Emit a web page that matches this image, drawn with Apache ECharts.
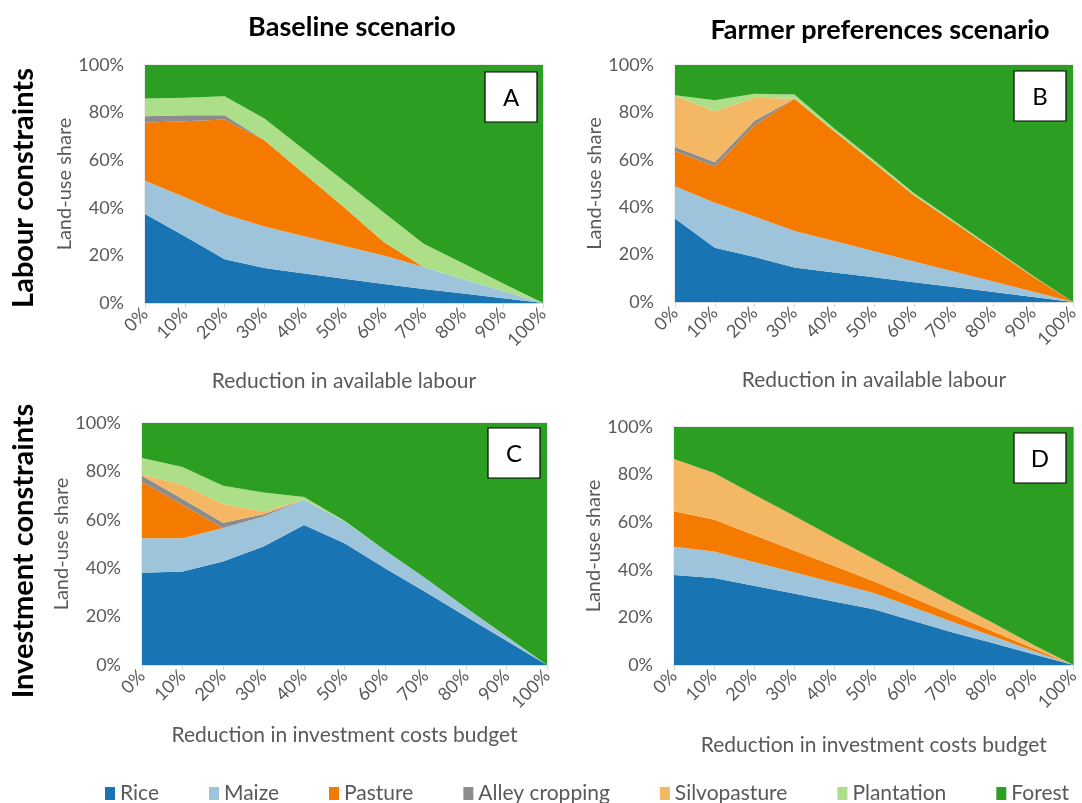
<!DOCTYPE html>
<html>
<head>
<meta charset="utf-8">
<script src="https://cdn.jsdelivr.net/npm/echarts@6/dist/echarts.min.js"></script>
<style>
  html, body { margin: 0; padding: 0; background: #fff; }
  #chart { width: 1082px; height: 803px; }
</style>
</head>
<body>
<div id="chart"></div>
<script>
// x categories (share of reduction)
const categories = ['0%', '10%', '20%', '30%', '40%', '50%', '60%', '70%', '80%', '90%', '100%'];
const landUses = ['Rice', 'Maize', 'Pasture', 'Alley cropping', 'Silvopasture', 'Plantation', 'Forest'];
const yTicks = [0, 20, 40, 60, 80, 100];

// A - labour constraints, baseline
const aRice       = [37.4, 28.0, 18.4, 14.7, 12.4, 10.2, 8.0, 5.9, 4.0, 2.0, 0];
const aMaize      = [14.0, 16.4, 18.9, 17.4, 15.6, 13.8, 12.0, 9.2, 6.0, 3.0, 0];
const aPasture    = [24.4, 32.0, 39.8, 36.3, 26.3, 16.2, 5.6, 0, 0, 0, 0];
const aAlley      = [2.7, 2.5, 1.8, 0, 0, 0, 0, 0, 0, 0, 0];
const aSilvo      = [0, 0, 0, 0, 0, 0, 0, 0, 0, 0, 0];
const aPlantation = [7.4, 7.3, 8.0, 9.1, 10.1, 11.1, 12.4, 9.8, 6.6, 3.2, 0];
const aForest     = [14.1, 13.8, 13.1, 22.5, 35.6, 48.7, 62.0, 75.1, 83.4, 91.8, 100];

// B - labour constraints, farmer preferences
const bRice       = [35.2, 22.9, 19.0, 14.6, 12.5, 10.4, 8.3, 6.3, 4.2, 2.1, 0];
const bMaize      = [13.6, 19.0, 17.1, 15.4, 13.2, 11.0, 8.8, 6.6, 4.4, 2.2, 0];
const bPasture    = [14.9, 15.3, 38.4, 55.8, 46.3, 37.3, 27.9, 20.7, 13.6, 6.4, 0];
const bAlley      = [1.7, 1.8, 2.0, 0, 0, 0, 0, 0, 0, 0, 0];
const bSilvo      = [21.5, 21.5, 9.7, 0, 0, 0, 0, 0, 0, 0, 0];
const bPlantation = [0.3, 4.6, 1.7, 1.8, 1.2, 1.1, 1.0, 0.8, 0.5, 0.3, 0];
const bForest     = [12.8, 14.9, 12.1, 12.4, 26.8, 40.2, 54.0, 65.6, 77.3, 89.0, 100];

// C - investment constraints, baseline
const cRice       = [38.1, 38.6, 42.8, 49.0, 57.8, 50.3, 40.0, 30.2, 20.0, 10.0, 0];
const cMaize      = [14.3, 13.8, 13.8, 12.4, 10.5, 9.0, 7.4, 5.6, 3.7, 1.9, 0];
const cPasture    = [23.2, 13.8, 0, 0, 0, 0, 0, 0, 0, 0, 0];
const cAlley      = [2.6, 2.4, 2.2, 0.9, 0, 0, 0, 0, 0, 0, 0];
const cSilvo      = [0.5, 5.9, 7.7, 1.1, 0, 0, 0, 0, 0, 0, 0];
const cPlantation = [6.8, 7.3, 7.6, 7.9, 1.1, 0.3, 0, 0, 0, 0, 0];
const cForest     = [14.5, 18.2, 25.9, 28.7, 30.6, 40.4, 52.6, 64.2, 76.3, 88.1, 100];

// D - investment constraints, farmer preferences
const dRice       = [37.8, 36.6, 33.3, 30.0, 26.7, 23.4, 18.5, 13.6, 9.1, 4.5, 0];
const dMaize      = [11.9, 11.1, 10.0, 9.0, 8.0, 6.9, 5.7, 4.4, 2.9, 1.4, 0];
const dPasture    = [14.9, 13.4, 11.3, 9.1, 7.0, 4.9, 3.8, 3.0, 2.0, 1.0, 0];
const dAlley      = [0, 0, 0, 0, 0, 0, 0, 0, 0, 0, 0];
const dSilvo      = [22.0, 19.6, 17.0, 14.6, 11.9, 9.3, 7.4, 5.4, 3.5, 1.5, 0];
const dPlantation = [0, 0, 0, 0, 0, 0, 0, 0, 0, 0, 0];
const dForest     = [13.4, 19.3, 28.4, 37.3, 46.4, 55.5, 64.6, 73.6, 82.5, 91.6, 100];

const colors = ['#1874b2', '#9dc4da', '#f57a00', '#8c8c8c', '#f4b865', '#acdf87', '#2c9f23'];
const font = 'Lato, "Open Sans", sans-serif';
const grey = '#595959';

const panels = [
  { key: 'A', grid: { left: 145, top: 65, width: 398, height: 238 }, xName: 'Reduction in available labour', nameGap: 68,
    data: [aRice, aMaize, aPasture, aAlley, aSilvo, aPlantation, aForest], box: [485, 72] },
  { key: 'B', grid: { left: 675, top: 65, width: 398, height: 237 }, xName: 'Reduction in available labour', nameGap: 68,
    data: [bRice, bMaize, bPasture, bAlley, bSilvo, bPlantation, bForest], box: [1014, 71] },
  { key: 'C', grid: { left: 142, top: 423, width: 405, height: 242 }, xName: 'Reduction in investment costs budget', nameGap: 60,
    data: [cRice, cMaize, cPasture, cAlley, cSilvo, cPlantation, cForest], box: [488, 428] },
  { key: 'D', grid: { left: 674, top: 427, width: 400, height: 238 }, xName: 'Reduction in investment costs budget', nameGap: 70,
    data: [dRice, dMaize, dPasture, dAlley, dSilvo, dPlantation, dForest], box: [1014, 433] }
];

const grids = [], xAxes = [], yAxes = [], series = [], graphic = [];

panels.forEach((p, i) => {
  grids.push(Object.assign({ show: true, borderColor: '#d9d9d9', borderWidth: 1, backgroundColor: 'transparent' }, p.grid));
  xAxes.push({
    type: 'category', gridIndex: i, data: categories, boundaryGap: false,
    axisLine: { lineStyle: { color: '#d9d9d9' } },
    axisTick: { show: true, length: 5, lineStyle: { color: '#d9d9d9' } },
    axisLabel: { rotate: 45, color: grey, fontSize: 18, fontFamily: font, margin: 8, interval: 0 },
    name: p.xName, nameLocation: 'middle', nameGap: p.nameGap,
    nameTextStyle: { color: grey, fontSize: 21, fontFamily: font }
  });
  yAxes.push({
    type: 'value', gridIndex: i, min: 0, max: 100, interval: 20,
    axisLine: { show: false }, axisTick: { show: false }, splitLine: { show: false },
    axisLabel: { formatter: '{value}%', color: grey, fontSize: 18, fontFamily: font, margin: 21 },
    name: 'Land-use share', nameLocation: 'middle', nameGap: 70,
    nameTextStyle: { color: grey, fontSize: 20, fontFamily: font }
  });
  landUses.forEach((name, k) => {
    series.push({
      name, type: 'line', xAxisIndex: i, yAxisIndex: i, stack: p.key,
      data: p.data[k], symbol: 'none', smooth: false,
      lineStyle: { width: 0 }, areaStyle: { color: colors[k], opacity: 1 },
      itemStyle: { color: colors[k] }, emphasis: { disabled: true }
    });
  });
  // panel letter box
  graphic.push({
    type: 'rect', shape: { x: p.box[0], y: p.box[1], width: 52, height: 50 },
    style: { fill: '#fff', stroke: '#000', lineWidth: 1.2 }, z: 100
  });
  graphic.push({
    type: 'text', x: p.box[0] + 26, y: p.box[1] + 26, z: 101,
    style: { text: p.key, fill: '#000', font: '24px ' + font, textAlign: 'center', textVerticalAlign: 'middle' }
  });
});

// column and row headings
graphic.push(
  { type: 'text', x: 352, y: 27, style: { text: 'Baseline scenario', fill: '#000', font: 'bold 27px ' + font, textAlign: 'center', textVerticalAlign: 'middle' } },
  { type: 'text', x: 880, y: 30, style: { text: 'Farmer preferences scenario', fill: '#000', font: 'bold 27px ' + font, textAlign: 'center', textVerticalAlign: 'middle' } },
  { type: 'text', x: 24, y: 188, rotation: Math.PI / 2, style: { text: 'Labour constraints', fill: '#000', font: 'bold 29px ' + font, textAlign: 'center', textVerticalAlign: 'middle' } },
  { type: 'text', x: 24, y: 551, rotation: Math.PI / 2, style: { text: 'Investment constraints', fill: '#000', font: 'bold 29px ' + font, textAlign: 'center', textVerticalAlign: 'middle' } }
);

const chart = echarts.init(document.getElementById('chart'));
chart.setOption({
  animation: false,
  textStyle: { fontFamily: font },
  grid: grids,
  xAxis: xAxes,
  yAxis: yAxes,
  series: series,
  legend: {
    data: landUses, left: 100, top: 778, icon: 'rect', itemWidth: 10, itemHeight: 13, itemGap: 50,
    textStyle: { color: grey, fontSize: 21, fontFamily: font }, selectedMode: false
  },
  graphic: graphic
});
window.addEventListener('resize', () => chart.resize());
</script>
</body>
</html>
